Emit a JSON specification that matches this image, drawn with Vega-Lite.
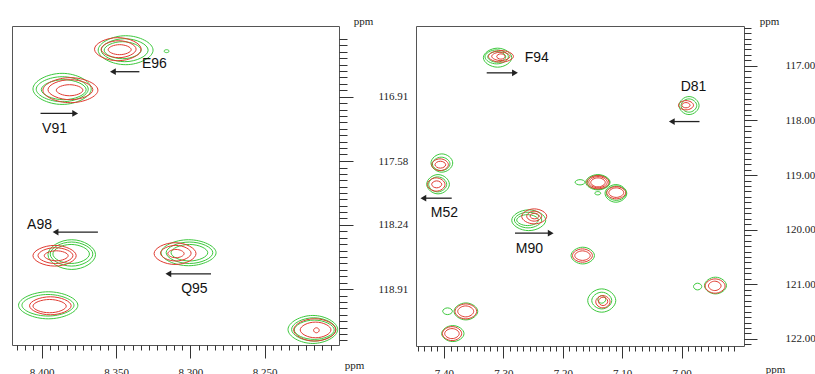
{
"$schema": "https://vega.github.io/schema/vega-lite/v6.json",
"padding": {"left": 11, "top": 14, "right": 0, "bottom": 0},
"background": "white",
"spacing": 77,
"bounds": "flush",
"resolve": {"scale": {"x": "independent", "y": "independent"}},
"config": {
  "view": {"stroke": "#555", "strokeWidth": 1},
  "axis": {"domain": false, "grid": false, "tickCount": 1000, "tickColor": "#333", "tickWidth": 1, "labelFont": "Liberation Serif", "labelFontSize": 11, "labelColor": "#222", "labelOverlap": false, "labelFlush": false, "labelBound": false, "titleFont": "Liberation Serif", "titleFontSize": 11, "titleFontWeight": "normal", "titleColor": "#222", "titleAngle": 0, "titleAlign": "center", "titleBaseline": "middle"}
},
"datasets": {
  "cl": [
    {"c":"1","s":"g","x":[8.3620,8.3435,8.3251,8.3435],"y":[116.426,116.276,116.426,116.577]},
    {"c":"2","s":"g","x":[8.3600,8.3442,8.3284,8.3442],"y":[116.426,116.307,116.426,116.546]},
    {"c":"3","s":"g","x":[8.3580,8.3456,8.3331,8.3456],"y":[116.426,116.338,116.426,116.515]},
    {"c":"4","s":"g","x":[8.3177,8.3160,8.3143,8.3160],"y":[116.436,116.421,116.436,116.452]},
    {"c":"5","s":"g","x":[8.4059,8.3863,8.3667,8.3863],"y":[116.829,116.667,116.829,116.990]},
    {"c":"6","s":"g","x":[8.4037,8.3862,8.3687,8.3862],"y":[116.832,116.702,116.832,116.962]},
    {"c":"7","s":"g","x":[8.4003,8.3852,8.3701,8.3852],"y":[116.837,116.733,116.837,116.941]},
    {"c":"8","s":"g","x":[8.3958,8.3798,8.3638,8.3798],"y":[118.551,118.396,118.551,118.705]},
    {"c":"9","s":"g","x":[8.3943,8.3799,8.3656,8.3799],"y":[118.545,118.420,118.545,118.670]},
    {"c":"10","s":"g","x":[8.3925,8.3802,8.3679,8.3802],"y":[118.544,118.445,118.544,118.643]},
    {"c":"11","s":"g","x":[8.3197,8.3012,8.2827,8.3012],"y":[118.531,118.396,118.531,118.666]},
    {"c":"12","s":"g","x":[8.3163,8.3006,8.2849,8.3006],"y":[118.531,118.420,118.531,118.643]},
    {"c":"13","s":"g","x":[8.3130,8.3006,8.2883,8.3006],"y":[118.531,118.445,118.531,118.617]},
    {"c":"14","s":"g","x":[8.4156,8.3956,8.3757,8.3956],"y":[119.077,118.937,119.077,119.218]},
    {"c":"15","s":"g","x":[8.4133,8.3958,8.3783,8.3958],"y":[119.077,118.965,119.077,119.189]},
    {"c":"16","s":"g","x":[8.2343,8.2176,8.2009,8.2176],"y":[119.329,119.183,119.329,119.474]},
    {"c":"17","s":"g","x":[8.2319,8.2170,8.2021,8.2170],"y":[119.328,119.207,119.328,119.449]},
    {"c":"18","s":"g","x":[8.2301,8.2167,8.2032,8.2167],"y":[119.333,119.231,119.333,119.432]},
    {"c":"21","s":"r","x":[8.3645,8.3488,8.3331,8.3488],"y":[116.416,116.296,116.416,116.536]},
    {"c":"22","s":"r","x":[8.3600,8.3482,8.3365,8.3482],"y":[116.416,116.328,116.416,116.504]},
    {"c":"23","s":"r","x":[8.3553,8.3476,8.3398,8.3476],"y":[116.421,116.369,116.421,116.473]},
    {"c":"24","s":"r","x":[8.3992,8.3807,8.3622,8.3807],"y":[116.842,116.712,116.842,116.972]},
    {"c":"25","s":"r","x":[8.3958,8.3807,8.3656,8.3807],"y":[116.837,116.733,116.837,116.941]},
    {"c":"26","s":"r","x":[8.3902,8.3813,8.3723,8.3813],"y":[116.842,116.785,116.842,116.900]},
    {"c":"27","s":"r","x":[8.4059,8.3913,8.3768,8.3913],"y":[118.562,118.455,118.562,118.670]},
    {"c":"28","s":"r","x":[8.4025,8.3908,8.3790,8.3908],"y":[118.561,118.479,118.561,118.643]},
    {"c":"29","s":"r","x":[8.3983,8.3902,8.3822,8.3902],"y":[118.562,118.511,118.562,118.615]},
    {"c":"30","s":"r","x":[8.3244,8.3103,8.2962,8.3103],"y":[118.540,118.427,118.540,118.653]},
    {"c":"31","s":"r","x":[8.3201,8.3098,8.2995,8.3098],"y":[118.536,118.455,118.536,118.617]},
    {"c":"32","s":"r","x":[8.3152,8.3097,8.3042,8.3097],"y":[118.540,118.497,118.540,118.583]},
    {"c":"33","s":"r","x":[8.4082,8.3942,8.3802,8.3942],"y":[119.082,118.989,119.082,119.176]},
    {"c":"34","s":"r","x":[8.4059,8.3947,8.3835,8.3947],"y":[119.086,119.017,119.086,119.155]},
    {"c":"35","s":"r","x":[8.2305,8.2163,8.2021,8.2163],"y":[119.333,119.217,119.333,119.449]},
    {"c":"36","s":"r","x":[8.2261,8.2158,8.2054,8.2158],"y":[119.333,119.252,119.333,119.415]},
    {"c":"37","s":"r","x":[8.2171,8.2152,8.2133,8.2152],"y":[119.337,119.311,119.337,119.363]}
  ],
  "cr": [
    {"c":"1","s":"g","x":[7.3336,7.3097,7.2859,7.3097],"y":[116.850,116.676,116.850,117.024]},
    {"c":"2","s":"g","x":[7.3309,7.3112,7.2915,7.3112],"y":[116.835,116.707,116.835,116.964]},
    {"c":"3","s":"g","x":[7.3263,7.3112,7.2960,7.3112],"y":[116.835,116.738,116.835,116.932]},
    {"c":"4","s":"g","x":[7.0043,6.9875,6.9706,6.9875],"y":[117.727,117.562,117.727,117.892]},
    {"c":"5","s":"g","x":[7.0009,6.9877,6.9745,6.9877],"y":[117.726,117.605,117.726,117.848]},
    {"c":"6","s":"g","x":[7.4218,7.4035,7.3852,7.4035],"y":[118.779,118.612,118.779,118.947]},
    {"c":"7","s":"g","x":[7.4194,7.4046,7.3898,7.4046],"y":[118.795,118.672,118.795,118.918]},
    {"c":"8","s":"g","x":[7.4290,7.4099,7.3908,7.4099],"y":[119.168,118.991,119.168,119.344]},
    {"c":"9","s":"g","x":[7.4257,7.4105,7.3953,7.4105],"y":[119.170,119.033,119.170,119.308]},
    {"c":"10","s":"g","x":[7.1614,7.1409,7.1204,7.1409],"y":[119.131,118.991,119.131,119.271]},
    {"c":"11","s":"g","x":[7.1588,7.1401,7.1214,7.1401],"y":[119.132,119.002,119.132,119.262]},
    {"c":"12","s":"g","x":[7.1793,7.1709,7.1625,7.1709],"y":[119.131,119.083,119.131,119.180]},
    {"c":"13","s":"g","x":[7.1462,7.1411,7.1361,7.1411],"y":[119.332,119.302,119.332,119.363]},
    {"c":"14","s":"g","x":[7.1289,7.1106,7.0923,7.1106],"y":[119.335,119.174,119.335,119.497]},
    {"c":"15","s":"g","x":[7.1268,7.1100,7.0932,7.1100],"y":[119.331,119.198,119.331,119.463]},
    {"c":"16","s":"g","x":[7.2859,7.2573,7.2287,7.2573],"y":[119.827,119.637,119.827,120.017]},
    {"c":"17","s":"g","x":[7.2814,7.2584,7.2354,7.2584],"y":[119.823,119.680,119.823,119.967]},
    {"c":"18","s":"g","x":[7.2775,7.2592,7.2410,7.2592],"y":[119.824,119.724,119.824,119.925]},
    {"c":"19","s":"g","x":[7.1861,7.1664,7.1467,7.1664],"y":[120.474,120.321,120.474,120.627]},
    {"c":"20","s":"g","x":[7.1580,7.1344,7.1108,7.1344],"y":[121.298,121.084,121.298,121.511]},
    {"c":"21","s":"g","x":[7.1512,7.1344,7.1176,7.1344],"y":[121.298,121.145,121.298,121.451]},
    {"c":"22","s":"g","x":[7.1411,7.1344,7.1277,7.1344],"y":[121.277,121.207,121.277,121.346]},
    {"c":"23","s":"g","x":[6.9615,6.9430,6.9245,6.9430],"y":[121.023,120.870,121.023,121.176]},
    {"c":"24","s":"g","x":[6.9800,6.9731,6.9661,6.9731],"y":[121.041,120.980,121.041,121.103]},
    {"c":"25","s":"g","x":[7.3830,7.3631,7.3431,7.3631],"y":[121.496,121.341,121.496,121.652]},
    {"c":"26","s":"g","x":[7.4021,7.3939,7.3857,7.3939],"y":[121.494,121.432,121.494,121.555]},
    {"c":"27","s":"g","x":[7.4038,7.3850,7.3662,7.3850],"y":[121.903,121.756,121.903,122.049]},
    {"c":"31","s":"r","x":[7.3251,7.3041,7.2830,7.3041],"y":[116.826,116.720,116.826,116.932]},
    {"c":"32","s":"r","x":[7.3196,7.3042,7.2888,7.3042],"y":[116.826,116.749,116.826,116.903]},
    {"c":"33","s":"r","x":[7.3112,7.3042,7.2972,7.3042],"y":[116.829,116.780,116.829,116.877]},
    {"c":"34","s":"r","x":[7.0053,6.9927,6.9800,6.9927],"y":[117.721,117.636,117.721,117.806]},
    {"c":"35","s":"r","x":[6.9997,6.9927,6.9857,6.9927],"y":[117.721,117.672,117.721,117.769]},
    {"c":"36","s":"r","x":[7.4206,7.4065,7.3925,7.4065],"y":[118.810,118.703,118.810,118.918]},
    {"c":"37","s":"r","x":[7.4150,7.4060,7.3970,7.4060],"y":[118.810,118.746,118.810,118.873]},
    {"c":"38","s":"r","x":[7.4278,7.4130,7.3982,7.4130],"y":[119.173,119.051,119.173,119.295]},
    {"c":"39","s":"r","x":[7.4206,7.4122,7.4037,7.4122],"y":[119.170,119.106,119.170,119.234]},
    {"c":"40","s":"r","x":[7.1597,7.1409,7.1221,7.1409],"y":[119.131,119.009,119.131,119.253]},
    {"c":"41","s":"r","x":[7.1563,7.1407,7.1251,7.1407],"y":[119.131,119.028,119.131,119.234]},
    {"c":"42","s":"r","x":[7.1529,7.1407,7.1285,7.1407],"y":[119.134,119.051,119.134,119.216]},
    {"c":"43","s":"r","x":[7.1260,7.1100,7.0940,7.1100],"y":[119.323,119.211,119.323,119.436]},
    {"c":"44","s":"r","x":[7.1226,7.1100,7.0974,7.1100],"y":[119.322,119.234,119.322,119.409]},
    {"c":"45","s":"r","x":[7.2691,7.2480,7.2270,7.2480],"y":[119.757,119.619,119.757,119.894]},
    {"c":"46","s":"r","x":[7.2607,7.2480,7.2354,7.2480],"y":[119.753,119.661,119.753,119.844]},
    {"c":"47","s":"r","x":[7.2551,7.2475,7.2400,7.2475],"y":[119.750,119.698,119.750,119.802]},
    {"c":"48","s":"r","x":[7.1837,7.1669,7.1501,7.1669],"y":[120.474,120.352,120.474,120.595]},
    {"c":"49","s":"r","x":[7.1798,7.1668,7.1538,7.1668],"y":[120.475,120.388,120.475,120.562]},
    {"c":"50","s":"r","x":[7.1445,7.1325,7.1204,7.1325],"y":[121.320,121.207,121.320,121.432]},
    {"c":"51","s":"r","x":[7.1400,7.1321,7.1243,7.1321],"y":[121.313,121.236,121.313,121.390]},
    {"c":"52","s":"r","x":[6.9605,6.9437,6.9268,6.9437],"y":[121.032,120.901,121.032,121.163]},
    {"c":"53","s":"r","x":[6.9548,6.9442,6.9336,6.9442],"y":[121.029,120.943,121.029,121.115]},
    {"c":"54","s":"r","x":[7.3814,7.3631,7.3448,7.3631],"y":[121.496,121.359,121.496,121.634]},
    {"c":"55","s":"r","x":[7.3768,7.3633,7.3499,7.3633],"y":[121.496,121.396,121.496,121.597]},
    {"c":"56","s":"r","x":[7.4026,7.3863,7.3701,7.3863],"y":[121.903,121.775,121.903,122.031]},
    {"c":"57","s":"r","x":[7.3987,7.3865,7.3743,7.3865],"y":[121.903,121.811,121.903,121.995]}
  ],
  "al": [
    {"x":8.3343,"x2":8.3521,"y":116.650,"d":"left"},
    {"x":8.4008,"x2":8.3775,"y":117.083,"d":"right"},
    {"x":8.3622,"x2":8.3907,"y":118.316,"d":"left"},
    {"x":8.2861,"x2":8.3148,"y":118.750,"d":"left"}
  ],
  "ar": [
    {"x":7.3280,"x2":7.2804,"y":117.128,"d":"right"},
    {"x":6.9699,"x2":7.0165,"y":118.020,"d":"left"},
    {"x":7.3869,"x2":7.4346,"y":119.423,"d":"left"},
    {"x":7.2804,"x2":7.2203,"y":120.064,"d":"right"}
  ],
  "tl": [
    {"x":8.3242,"y":116.574,"t":"E96"},
    {"x":8.3914,"y":117.242,"t":"V91"},
    {"x":8.4015,"y":118.247,"t":"A98"},
    {"x":8.2973,"y":118.906,"t":"Q95"}
  ],
  "tr": [
    {"x":7.2438,"y":116.859,"t":"F94"},
    {"x":6.9800,"y":117.379,"t":"D81"},
    {"x":7.3992,"y":119.698,"t":"M52"},
    {"x":7.2561,"y":120.352,"t":"M90"}
  ]
},
"hconcat": [
  {
    "width": 327, "height": 319,
    "layer": [
      {
        "data": {"name": "cl"},
        "transform": [{"flatten": ["x", "y"]}],
        "mark": {"type": "line", "interpolate": "cardinal-closed", "tension": -0.5, "strokeWidth": 1},
        "encoding": {
          "x": {"field": "x", "type": "quantitative",
                "scale": {"domain": [8.2, 8.42], "reverse": true, "nice": false, "zero": false},
                "axis": {"orient": "bottom", "title": "ppm", "titleX": 342, "titleY": 20, "tickCount": 1000,
                         "values": [8.4,8.35,8.3,8.25,8.41667,8.41111,8.40556,8.39444,8.38889,8.38333,8.37778,8.37222,8.36667,8.36111,8.35556,8.34444,8.33889,8.33333,8.32778,8.32222,8.31667,8.31111,8.30556,8.29444,8.28889,8.28333,8.27778,8.27222,8.26667,8.26111,8.25556,8.24444,8.23889,8.23333,8.22778,8.22222,8.21667,8.21111,8.20556],
                         "labelExpr": "indexof([8.4,8.35,8.3,8.25], datum.value) >= 0 ? format(datum.value, '.3f') : ''",
                         "tickSize": {"condition": {"test": "indexof([8.4,8.35,8.3,8.25], datum.value) >= 0", "value": 13}, "value": 5},
                         "labelPadding": 8, "labelBaseline": "top"}},
          "y": {"field": "y", "type": "quantitative",
                "scale": {"domain": [116.175, 119.49], "reverse": true, "nice": false, "zero": false},
                "axis": {"orient": "right", "title": "ppm", "titleX": 24, "titleY": -5, "tickCount": 1000,
                         "values": [116.91,117.58,118.24,118.91,116.31,116.377,116.443,116.51,116.577,116.643,116.71,116.777,116.843,116.977,117.043,117.11,117.177,117.243,117.31,117.377,117.443,117.51,117.646,117.712,117.778,117.844,117.91,117.976,118.042,118.108,118.174,118.307,118.374,118.441,118.508,118.575,118.642,118.709,118.776,118.843,118.977,119.043,119.11,119.177,119.243,119.31,119.377,119.443],
                         "labelExpr": "indexof([116.91,117.58,118.24,118.91], datum.value) >= 0 ? format(datum.value, '.2f') : ''",
                         "tickSize": {"condition": {"test": "indexof([116.91,117.58,118.24,118.91], datum.value) >= 0", "value": 14}, "value": 8},
                         "labelPadding": 25, "labelAlign": "left", "labelBaseline": "middle"}},
          "color": {"field": "s", "type": "nominal", "scale": {"domain": ["g", "r"], "range": ["#3cc83c", "#e03a30"]}, "legend": null},
          "detail": {"field": "c"},
          "order": {"value": null}
        }
      },
      {
        "data": {"name": "al"},
        "mark": {"type": "rule", "color": "#222", "strokeWidth": 1.3},
        "encoding": {"x": {"field": "x", "type": "quantitative"}, "x2": {"field": "x2"}, "y": {"field": "y", "type": "quantitative"}}
      },
      {
        "data": {"name": "al"},
        "mark": {"type": "point", "filled": true, "color": "#222", "size": 45, "opacity": 1},
        "encoding": {"x": {"field": "x2", "type": "quantitative"}, "y": {"field": "y", "type": "quantitative"},
                     "shape": {"field": "d", "type": "nominal", "scale": {"domain": ["left", "right"], "range": ["triangle-left", "triangle-right"]}, "legend": null}}
      },
      {
        "data": {"name": "tl"},
        "mark": {"type": "text", "font": "Liberation Sans", "fontSize": 14, "color": "#111", "align": "center", "baseline": "middle"},
        "encoding": {"x": {"field": "x", "type": "quantitative"}, "y": {"field": "y", "type": "quantitative"}, "text": {"field": "t"}}
      }
    ]
  },
  {
    "width": 328, "height": 320,
    "layer": [
      {
        "data": {"name": "cr"},
        "transform": [{"flatten": ["x", "y"]}],
        "mark": {"type": "line", "interpolate": "cardinal-closed", "tension": -0.5, "strokeWidth": 1},
        "encoding": {
          "x": {"field": "x", "type": "quantitative",
                "scale": {"domain": [6.895, 7.447], "reverse": true, "nice": false, "zero": false},
                "axis": {"orient": "bottom", "title": "ppm", "titleX": 359, "titleY": 23, "tickCount": 1000,
                         "values": [7.4,7.3,7.2,7.1,7.0,7.44444,7.43333,7.42222,7.41111,7.38889,7.37778,7.36667,7.35556,7.34444,7.33333,7.32222,7.31111,7.28889,7.27778,7.26667,7.25556,7.24444,7.23333,7.22222,7.21111,7.18889,7.17778,7.16667,7.15556,7.14444,7.13333,7.12222,7.11111,7.08889,7.07778,7.06667,7.05556,7.04444,7.03333,7.02222,7.01111,6.98889,6.97778,6.96667,6.95556,6.94444,6.93333,6.92222,6.91111],
                         "labelExpr": "indexof([7.4,7.3,7.2,7.1,7], datum.value) >= 0 ? format(datum.value, '.2f') : ''",
                         "tickSize": {"condition": {"test": "indexof([7.4,7.3,7.2,7.1,7], datum.value) >= 0", "value": 12}, "value": 5},
                         "labelPadding": 9, "labelBaseline": "top"}},
          "y": {"field": "y", "type": "quantitative",
                "scale": {"domain": [116.27, 122.13], "reverse": true, "nice": false, "zero": false},
                "axis": {"orient": "right", "title": "ppm", "titleX": 25, "titleY": -5, "tickCount": 1000,
                         "values": [116.3,116.4,116.5,116.6,116.7,116.8,116.9,117,117.1,117.2,117.3,117.4,117.5,117.6,117.7,117.8,117.9,118,118.1,118.2,118.3,118.4,118.5,118.6,118.7,118.8,118.9,119,119.1,119.2,119.3,119.4,119.5,119.6,119.7,119.8,119.9,120,120.1,120.2,120.3,120.4,120.5,120.6,120.7,120.8,120.9,121,121.1,121.2,121.3,121.4,121.5,121.6,121.7,121.8,121.9,122,122.1],
                         "labelExpr": "indexof([117,118,119,120,121,122], datum.value) >= 0 ? format(datum.value, '.2f') : ''",
                         "tickSize": {"condition": {"test": "indexof([117,118,119,120,121,122], datum.value) >= 0", "value": 13}, "value": 7},
                         "labelPadding": 28, "labelAlign": "left", "labelBaseline": "middle"}},
          "color": {"field": "s", "type": "nominal", "scale": {"domain": ["g", "r"], "range": ["#3cc83c", "#e03a30"]}, "legend": null},
          "detail": {"field": "c"},
          "order": {"value": null}
        }
      },
      {
        "data": {"name": "ar"},
        "mark": {"type": "rule", "color": "#222", "strokeWidth": 1.3},
        "encoding": {"x": {"field": "x", "type": "quantitative"}, "x2": {"field": "x2"}, "y": {"field": "y", "type": "quantitative"}}
      },
      {
        "data": {"name": "ar"},
        "mark": {"type": "point", "filled": true, "color": "#222", "size": 45, "opacity": 1},
        "encoding": {"x": {"field": "x2", "type": "quantitative"}, "y": {"field": "y", "type": "quantitative"},
                     "shape": {"field": "d", "type": "nominal", "scale": {"domain": ["left", "right"], "range": ["triangle-left", "triangle-right"]}, "legend": null}}
      },
      {
        "data": {"name": "tr"},
        "mark": {"type": "text", "font": "Liberation Sans", "fontSize": 14, "color": "#111", "align": "center", "baseline": "middle"},
        "encoding": {"x": {"field": "x", "type": "quantitative"}, "y": {"field": "y", "type": "quantitative"}, "text": {"field": "t"}}
      }
    ]
  }
]
}
